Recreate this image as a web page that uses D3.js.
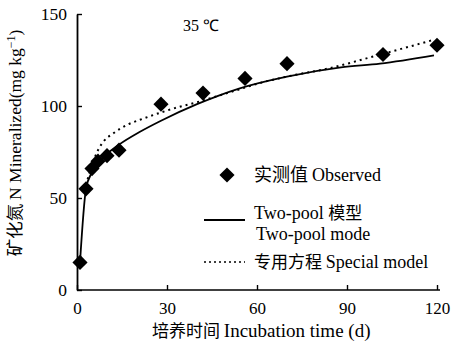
<!DOCTYPE html>
<html>
<head>
<meta charset="utf-8">
<script src="https://cdn.jsdelivr.net/npm/d3@7"></script>
<style>
  body { margin: 0; background: #fff; }
  text { font-family: "Liberation Serif", "Times New Roman", serif; fill: #000; }
  .cjk { font-family: "Noto Sans CJK SC", serif; }
</style>
</head>
<body>
<svg id="chart" width="456" height="343"></svg>
<script>
// observed data (day, mg/kg)
var obsDays = [1, 3, 5, 7, 10, 14, 28, 42, 56, 70, 102, 120];
var obsVals = [15, 55, 66, 70, 73, 76, 101, 107, 115, 123, 128, 133];

// two-pool model curve
var twoPoolDays = [1, 3, 5, 7, 10, 14, 21, 28, 40, 54, 70, 88, 101, 119];
var twoPoolVals = [15, 55, 64, 69, 74, 79, 86, 92, 101, 109.5, 116, 121, 123, 127.5];

// special model curve
var specDays = [3, 5, 7, 9, 12, 17, 21, 28, 34, 41, 47, 54, 61, 70, 84, 99, 119];
var specVals = [57, 68, 76, 81, 85, 90, 92.5, 96.5, 99.5, 102.5, 105.5, 109, 112.5, 116, 120.5, 127, 136];

var xTicks = [0, 30, 60, 90, 120];
var yTicks = [0, 50, 100, 150];

var svg = d3.select("#chart");

var x = d3.scaleLinear().domain([0, 120]).range([77, 437]);
var y = d3.scaleLinear().domain([0, 150]).range([290, 14]);

// axes
var xAxis = svg.append("g")
    .attr("transform", "translate(0,290)")
    .call(d3.axisBottom(x).tickValues(xTicks).tickSizeInner(-5).tickSizeOuter(0).tickPadding(12));
xAxis.select(".domain").attr("d", "M77,0H440").attr("stroke-width", 1.6);
xAxis.selectAll("line").attr("stroke-width", 1.4);
xAxis.selectAll("text").attr("font-size", 17).attr("font-family", "Liberation Serif");

var yAxis = svg.append("g")
    .attr("transform", "translate(77,0)")
    .call(d3.axisLeft(y).tickValues(yTicks).tickSizeInner(-5).tickSizeOuter(0).tickPadding(10));
yAxis.select(".domain").attr("stroke-width", 1.8);
yAxis.selectAll("line").attr("stroke-width", 1.4);
yAxis.selectAll("text").attr("font-size", 17.5).attr("font-family", "Liberation Serif");

// curves
var line = d3.line().x(function(d) { return x(d[0]); }).y(function(d) { return y(d[1]); }).curve(d3.curveMonotoneX);

svg.append("path")
    .datum(d3.zip(specDays, specVals))
    .attr("d", line)
    .attr("fill", "none")
    .attr("stroke", "#000")
    .attr("stroke-width", 2)
    .attr("stroke-dasharray", "2,4");

svg.append("path")
    .datum(d3.zip(twoPoolDays, twoPoolVals))
    .attr("d", line)
    .attr("fill", "none")
    .attr("stroke", "#000")
    .attr("stroke-width", 1.8);

// observed points
var diamond = d3.symbol().type(d3.symbolSquare).size(115);
svg.append("g").selectAll("path")
    .data(d3.zip(obsDays, obsVals))
    .enter().append("path")
    .attr("d", diamond)
    .attr("transform", function(d) { return "translate(" + x(d[0]) + "," + y(d[1]) + ") rotate(45)"; })
    .attr("fill", "#000");

// annotation
svg.append("text").attr("x", 183).attr("y", 31).attr("font-size", 16).text("35 ℃");

// axis titles
var xt = svg.append("text").attr("x", 152).attr("y", 337).attr("font-size", 17);
xt.append("tspan").attr("class", "cjk").text("培养时间 ");
xt.append("tspan").attr("font-size", 19).text("Incubation time (d)");

var yt = svg.append("text")
    .attr("transform", "translate(21,143) rotate(-90)")
    .attr("text-anchor", "middle")
    .attr("font-size", 17.5);
yt.append("tspan").attr("class", "cjk").text("矿化氮 ");
yt.append("tspan").text("N Mineralized(mg kg");
yt.append("tspan").attr("dy", -6).attr("font-size", 12).text("−1");
yt.append("tspan").attr("dy", 6).text(")");

// legend
var lg = svg.append("g");
lg.append("path").attr("d", diamond).attr("transform", "translate(227,175) rotate(45)").attr("fill", "#000");
var t1 = lg.append("text").attr("x", 254).attr("y", 181).attr("font-size", 18);
t1.append("tspan").attr("class", "cjk").text("实测值 ");
t1.append("tspan").text(" Observed");

lg.append("line").attr("x1", 204).attr("x2", 245).attr("y1", 220).attr("y2", 220)
    .attr("stroke", "#000").attr("stroke-width", 1.8);
var t2 = lg.append("text").attr("x", 254).attr("y", 219).attr("font-size", 18);
t2.append("tspan").text("Two-pool ");
t2.append("tspan").attr("class", "cjk").attr("font-size", 17).text("模型");
lg.append("text").attr("x", 256).attr("y", 240).attr("font-size", 18).text("Two-pool mode");

lg.append("line").attr("x1", 204).attr("x2", 245).attr("y1", 262).attr("y2", 262)
    .attr("stroke", "#000").attr("stroke-width", 1.6).attr("stroke-dasharray", "2,3");
var t3 = lg.append("text").attr("x", 254).attr("y", 268).attr("font-size", 18);
t3.append("tspan").attr("class", "cjk").attr("font-size", 17).text("专用方程 ");
t3.append("tspan").text("Special model");
</script>
</body>
</html>
